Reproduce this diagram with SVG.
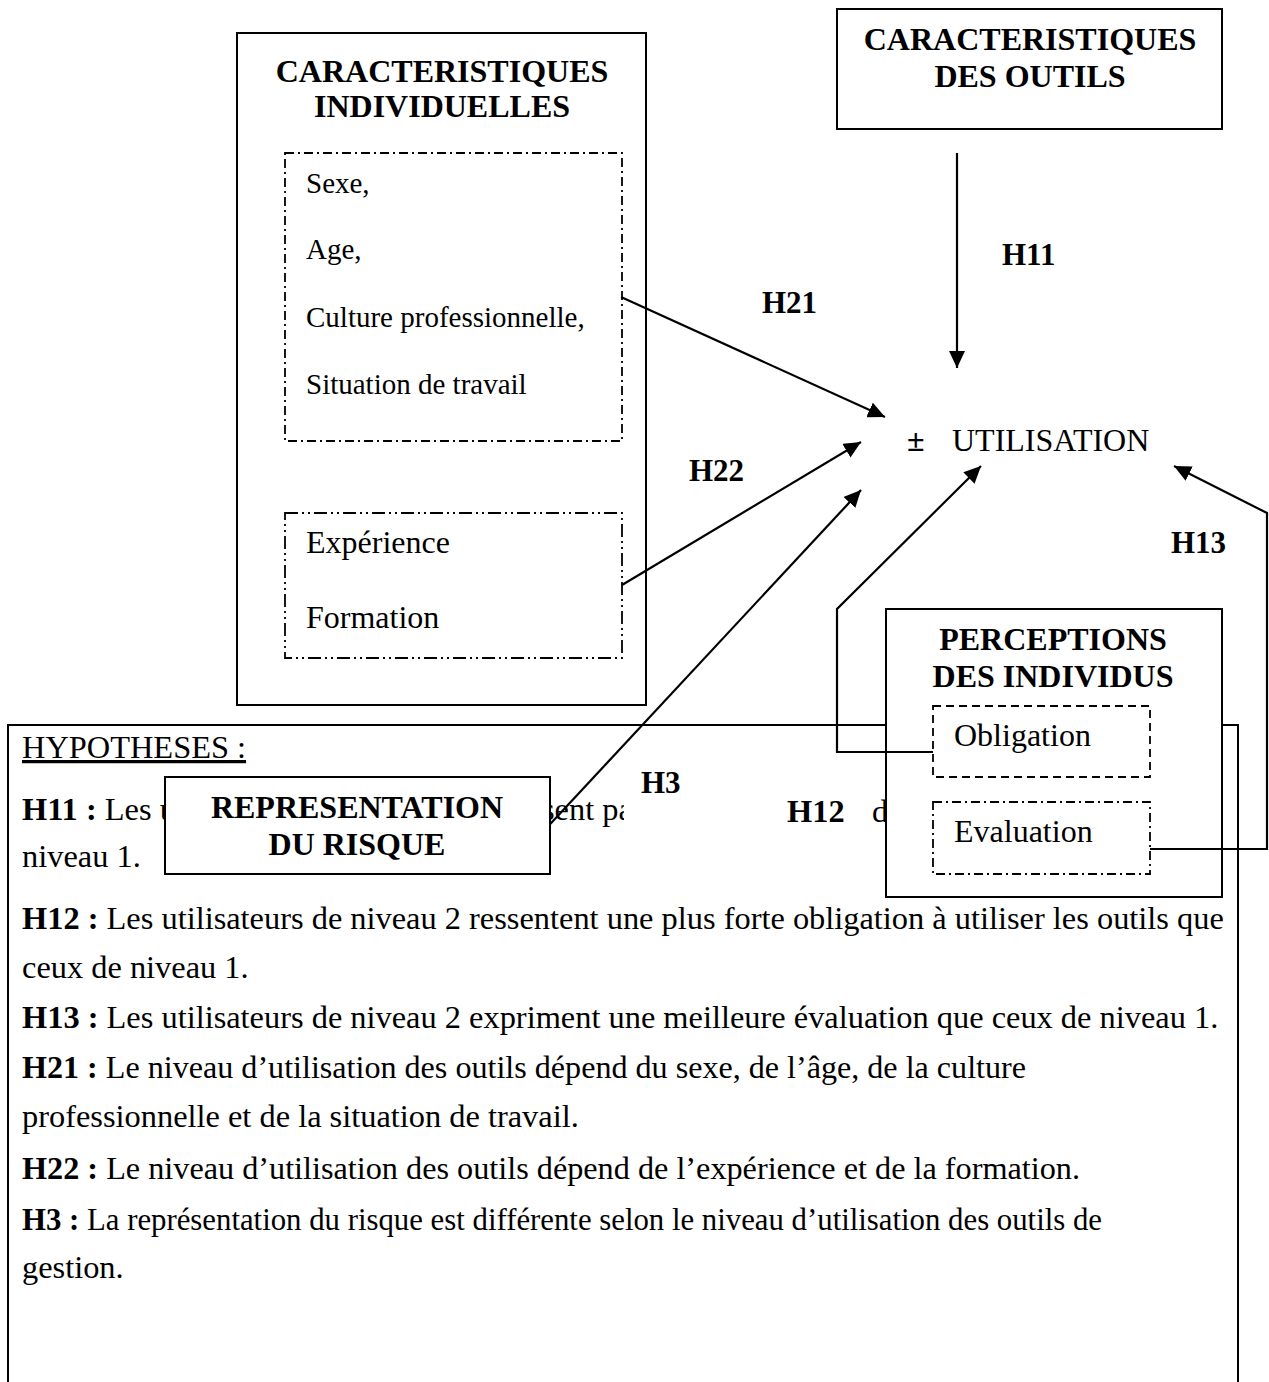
<svg xmlns="http://www.w3.org/2000/svg" width="1269" height="1382" viewBox="0 0 1269 1382">
<style>
text{font-family:'Liberation Serif','Times New Roman',serif;fill:#000}
.t{font-size:32px}
.h{font-size:32.4px}
.b{font-weight:bold}
.lab{font-size:31px;font-weight:bold}
.box{fill:#fff;stroke:#000;stroke-width:2}
.dd1{fill:none;stroke:#000;stroke-width:1.8;stroke-dasharray:9 4 2 4}
.dd2{fill:none;stroke:#000;stroke-width:1.8;stroke-dasharray:13 4 2 4 2 4}
.dsh{fill:none;stroke:#000;stroke-width:1.8;stroke-dasharray:8 5}
.conn{fill:none;stroke:#000;stroke-width:2.2}
</style>
<defs>
<marker id="ah" markerWidth="17" markerHeight="16" refX="17" refY="8" orient="auto" markerUnits="userSpaceOnUse"><path d="M0,0 L17,8 L0,16 z" fill="#000"/></marker>
<clipPath id="clipPa"><rect x="540" y="780" width="84" height="60"/></clipPath>
</defs>
<rect width="1269" height="1382" fill="#fff"/>

<g id="caracteristiques-individuelles">
<rect class="box" x="237" y="33" width="409" height="672"/>
<text class="t b" x="442" y="82" text-anchor="middle">CARACTERISTIQUES</text>
<text class="t b" x="442" y="117" text-anchor="middle">INDIVIDUELLES</text>
<rect class="dd1" x="285" y="153" width="337" height="288"/>
<text x="306" y="193" font-size="29">Sexe,</text>
<text x="306" y="259" font-size="29">Age,</text>
<text x="306" y="327" font-size="29">Culture professionnelle,</text>
<text x="306" y="394" font-size="29">Situation de travail</text>
<rect class="dd2" x="285" y="513" width="337" height="145"/>
<text class="t" x="306" y="553">Expérience</text>
<text class="t" x="306" y="628">Formation</text>
</g>

<g id="caracteristiques-outils">
<rect class="box" x="837" y="9" width="385" height="120"/>
<text class="t b" x="1030" y="50" text-anchor="middle">CARACTERISTIQUES</text>
<text class="t b" x="1030" y="87" text-anchor="middle">DES OUTILS</text>
</g>

<g id="utilisation">
<text class="t b" x="907" y="451">±</text>
<text class="t" x="952" y="451">UTILISATION</text>
</g>

<g id="hypotheses">
<rect class="box" x="8" y="725" width="1230" height="680"/>
<text class="h" x="22" y="758" text-decoration="underline">HYPOTHESES :</text>
<text class="h" x="22" y="820"><tspan class="b">H11 :</tspan> Les u</text>
<text class="h" x="542" y="820" clip-path="url(#clipPa)">sent pa</text>
<text class="h b" x="787" y="822">H12</text>
<text class="h" x="872" y="822">d</text>
<text class="h" x="22" y="867">niveau 1.</text>
<text class="h" x="22" y="929"><tspan class="b">H12 :</tspan> Les utilisateurs de niveau 2 ressentent une plus forte obligation à utiliser les outils que</text>
<text class="h" x="22" y="978">ceux de niveau 1.</text>
<text class="h" x="22" y="1028"><tspan class="b">H13 :</tspan> Les utilisateurs de niveau 2 expriment une meilleure évaluation que ceux de niveau 1.</text>
<text class="h" x="22" y="1078" textLength="1004" lengthAdjust="spacingAndGlyphs"><tspan class="b">H21 :</tspan> Le niveau d’utilisation des outils dépend du sexe, de l’âge, de la culture</text>
<text class="h" x="22" y="1127">professionnelle et de la situation de travail.</text>
<text class="h" x="22" y="1179" textLength="1058" lengthAdjust="spacingAndGlyphs"><tspan class="b">H22 :</tspan> Le niveau d’utilisation des outils dépend de l’expérience et de la formation.</text>
<text class="h" x="22" y="1230" textLength="1080" lengthAdjust="spacingAndGlyphs"><tspan class="b">H3 :</tspan> La représentation du risque est différente selon le niveau d’utilisation des outils de</text>
<text class="h" x="22" y="1278">gestion.</text>
</g>

<g id="perceptions-individus">
<rect class="box" x="886" y="609" width="336" height="288"/>
<text class="t b" x="1053" y="650" text-anchor="middle">PERCEPTIONS</text>
<text class="t b" x="1053" y="687" text-anchor="middle">DES INDIVIDUS</text>
<rect class="dsh" x="933" y="706" width="217" height="71"/>
<text class="t" x="954" y="746">Obligation</text>
<rect class="dd1" x="933" y="802" width="217" height="72"/>
<text class="t" x="954" y="842">Evaluation</text>
</g>

<g id="connectors">
<line class="conn" x1="957" y1="153" x2="957" y2="368" marker-end="url(#ah)"/>
<line class="conn" x1="621" y1="297" x2="885" y2="417" marker-end="url(#ah)"/>
<line class="conn" x1="622" y1="585" x2="861" y2="442" marker-end="url(#ah)"/>
<line class="conn" x1="540" y1="835" x2="861" y2="490" marker-end="url(#ah)"/>
<polyline class="conn" points="933,752 837,752 837,609 981,466" marker-end="url(#ah)"/>
<polyline class="conn" points="1150,849 1267,849 1267,513 1174,466" marker-end="url(#ah)"/>
</g>

<g id="representation-risque">
<rect class="box" x="165" y="777" width="385" height="97"/>
<text class="t b" x="357" y="818" text-anchor="middle">REPRESENTATION</text>
<text class="t b" x="357" y="855" text-anchor="middle">DU RISQUE</text>
</g>

<g id="labels">
<text class="lab" x="1002" y="265">H11</text>
<text class="lab" x="762" y="313">H21</text>
<text class="lab" x="689" y="481">H22</text>
<text class="lab" x="1171" y="553">H13</text>
<text class="lab" x="641" y="793">H3</text>
</g>
</svg>
